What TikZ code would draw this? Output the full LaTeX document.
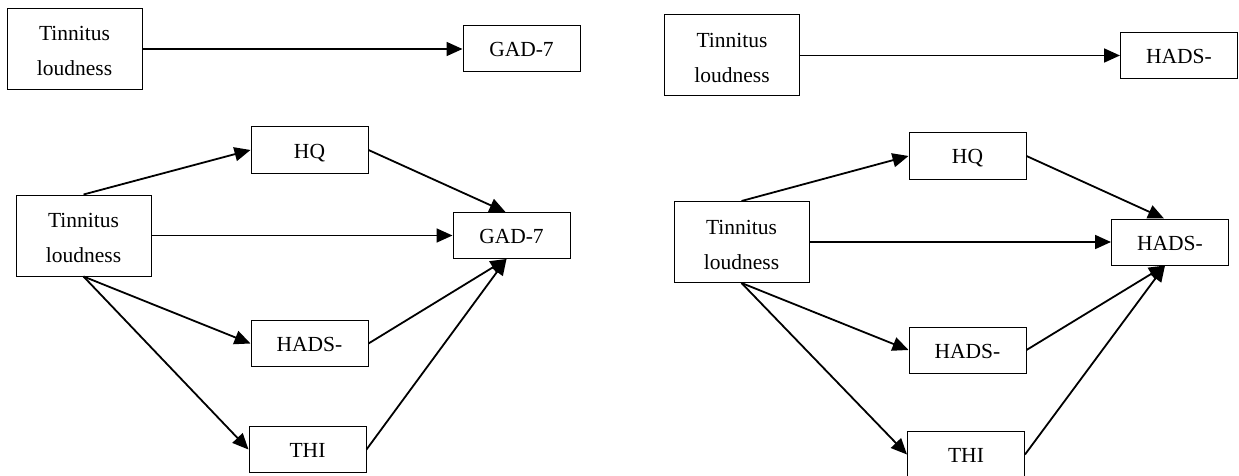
\documentclass[tikz,border=0pt]{standalone}
\usepackage{fontspec}
\setmainfont{Liberation Serif}
\usetikzlibrary{arrows.meta}
\begin{document}
\begin{tikzpicture}[x=1pt,y=-1pt,
  txt/.style={font=\fontsize{21.5}{36}\selectfont, inner sep=0pt, text height=15pt, text depth=0pt},
  box/.style={draw, line width=1pt, inner sep=0pt, font=\fontsize{21.5}{36}\selectfont},
  bigbox/.style={box, minimum width=135pt, minimum height=81pt,
    label={[txt, yshift=15.5pt]center:Tinnitus},
    label={[txt, yshift=-19.5pt]center:loudness}},
  smallbox/.style={box, minimum width=117pt, minimum height=46pt, text height=16pt, text depth=0pt},
  arr/.style={line width=1.8pt, -{Triangle[length=16pt,width=14pt]}}]
\useasboundingbox (0,0) rectangle (1239,476);
% top left
\node[bigbox] (t1) at (74.5,49) {};
\node[smallbox] (g1) at (521.5,49) {GAD-7};
\draw[arr] (t1) -- (g1);
% top right
\node[bigbox] (t2) at (732,55.5) {};
\node[smallbox] (h2) at (1179,55.5) {HADS-};
\draw[arr] (t2) -- (h2);
% lower left
\node[bigbox] (t3) at (83.5,235.5) {};
\node[smallbox] (q3) at (309.5,150) {HQ};
\node[smallbox] (g3) at (511.5,235.5) {GAD-7};
\node[smallbox] (a3) at (309.5,343.5) {HADS-};
\node[smallbox] (i3) at (307.5,449.5) {THI};
\draw[arr] (t3.north) -- (q3.west);
\draw[arr] (t3) -- (g3);
\draw[arr] (t3.south) -- (a3.west);
\draw[arr] (t3.south) -- (i3.west);
\draw[arr] (q3.east) -- ([xshift=-6pt]g3.north);
\draw[arr] (a3.east) -- ([xshift=-5pt]g3.south);
\draw[arr] (i3.east) -- ([xshift=-5pt]g3.south);
% lower right
\node[bigbox] (t4) at (741.5,242) {};
\node[smallbox] (q4) at (967.5,156) {HQ};
\node[smallbox] (g4) at (1170,242) {HADS-};
\node[smallbox] (a4) at (967.5,350) {HADS-};
\node[smallbox] (i4) at (966,454.5) {THI};
\draw[arr] (t4.north) -- (q4.west);
\draw[arr] (t4) -- (g4);
\draw[arr] (t4.south) -- (a4.west);
\draw[arr] (t4.south) -- (i4.west);
\draw[arr] (q4.east) -- ([xshift=-6pt]g4.north);
\draw[arr] (a4.east) -- ([xshift=-5pt]g4.south);
\draw[arr] (i4.east) -- ([xshift=-5pt]g4.south);
\end{tikzpicture}
\end{document}
